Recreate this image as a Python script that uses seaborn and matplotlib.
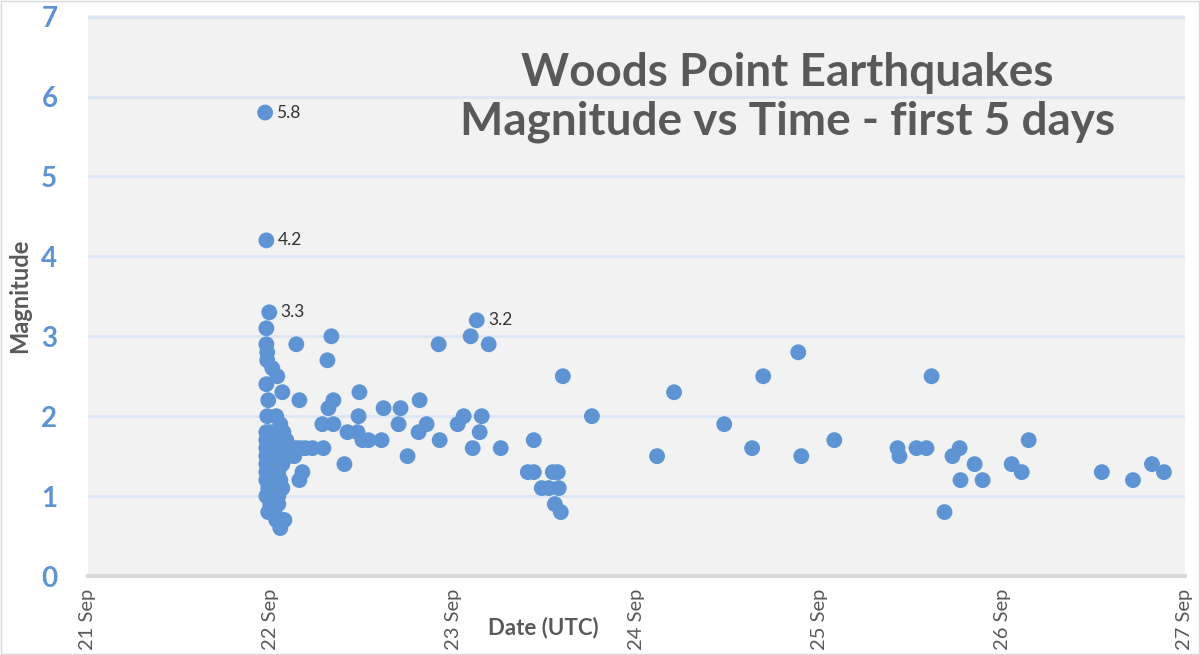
import pandas as pd
import seaborn as sns
import matplotlib.pyplot as plt
import matplotlib.dates as mdates

# event times (UTC, Sep 2021) and magnitudes
times = [
    '21 23:15', '21 23:25', '21 23:48', '21 23:25', '21 23:25', '21 23:32', '21 23:32',
    '22 00:12', '22 00:51', '21 23:25', '22 01:31', '21 23:40', '21 23:32', '22 00:43',
    '22 01:15', '22 01:39',
    '21 23:25', '21 23:56', '21 23:25', '22 00:12', '22 01:15', '22 02:02', '21 23:25',
    '21 23:56', '22 00:43', '22 01:47', '21 23:25', '22 00:12', '22 01:15', '22 02:18',
    '21 23:25', '22 00:28', '22 01:31', '21 23:25', '21 23:56', '22 00:59', '21 23:25',
    '22 00:12', '22 01:15', '21 23:40', '22 00:43', '22 01:31', '21 23:25', '22 00:12',
    '22 00:59', '21 23:56', '22 00:59', '21 23:40', '22 00:28', '22 00:43', '22 01:31',
    '22 01:15', '22 01:47',
    '22 02:50', '22 03:21', '22 03:53', '22 04:32', '22 03:05', '22 03:45', '22 04:09',
    '22 03:21', '22 03:45', '22 05:28', '22 06:54', '22 07:34', '22 08:13', '22 07:57',
    '22 07:26', '22 06:46', '22 08:13', '22 09:40', '22 10:04', '22 11:23', '22 11:31',
    '22 11:38', '22 12:02', '22 12:49', '22 14:32', '22 14:48', '22 17:02', '22 16:46',
    '22 17:57', '22 19:24', '22 19:32', '22 20:27', '22 22:10', '22 22:02',
    '23 00:32', '23 01:19', '23 02:14', '23 02:30', '23 03:02', '23 03:25', '23 03:41',
    '23 04:36', '23 06:11', '23 09:44', '23 10:31', '23 10:31', '23 11:34', '23 12:29',
    '23 13:01', '23 13:40', '23 13:48', '23 13:17', '23 14:04', '23 14:20', '23 18:09',
    '24 02:42', '24 04:56', '24 11:31', '24 15:11', '24 16:38', '24 21:14', '24 21:38',
    '25 01:58', '25 10:16', '25 10:31', '25 12:45', '25 14:04', '25 14:44', '25 16:26',
    '25 17:29', '25 18:25', '25 18:32', '25 20:23', '25 21:26',
    '26 01:15', '26 02:34', '26 03:29', '26 13:05', '26 17:10', '26 19:40', '26 21:14',
]
magnitudes = [
    5.8, 4.2, 3.3, 3.1, 2.9, 2.8, 2.7,
    2.6, 2.5, 2.4, 2.3, 2.2, 2.0, 2.0,
    1.9, 1.8,
    1.8, 1.8, 1.7, 1.7, 1.7, 1.7, 1.6,
    1.6, 1.6, 1.6, 1.5, 1.5, 1.5, 1.5,
    1.4, 1.4, 1.4, 1.3, 1.3, 1.3, 1.2,
    1.2, 1.2, 1.1, 1.1, 1.1, 1.0, 1.0,
    1.0, 0.9, 0.9, 0.8, 0.8, 0.7, 0.7,
    0.6, 0.7,
    1.6, 1.6, 1.6, 1.6, 1.5, 1.2, 1.3,
    2.9, 2.2, 1.6, 1.6, 2.1, 2.2, 3.0,
    2.7, 1.9, 1.9, 1.4, 1.8, 1.8, 2.0,
    2.3, 1.7, 1.7, 1.7, 2.1, 2.1, 1.9,
    1.5, 1.8, 2.2, 1.9, 1.7, 2.9,
    1.9, 2.0, 3.0, 1.6, 3.2, 1.8, 2.0,
    2.9, 1.6, 1.3, 1.3, 1.7, 1.1, 1.1,
    1.3, 1.3, 1.1, 0.9, 0.8, 2.5, 2.0,
    1.5, 2.3, 1.9, 1.6, 2.5, 2.8, 1.5,
    1.7, 1.6, 1.5, 1.6, 1.6, 2.5, 0.8,
    1.5, 1.6, 1.2, 1.4, 1.2,
    1.4, 1.3, 1.7, 1.3, 1.2, 1.4, 1.3,
]
labelled = [5.8, 4.2, 3.3, 3.2]

df = pd.DataFrame({
    'date': pd.to_datetime(['2021-09-' + t for t in times], format='%Y-%m-%d %H:%M'),
    'magnitude': magnitudes,
})

sns.set_style('white')
plt.rcParams['font.family'] = ['Lato', 'DejaVu Sans']

blue = '#5E94D4'
grey = '#595959'

fig = plt.figure(figsize=(12, 6.55), dpi=100)
ax = fig.add_axes([0.0733, 0.1206, 0.9142, 0.8564])
ax.set_facecolor('#F2F2F2')

sns.scatterplot(data=df, x='date', y='magnitude', color=blue, s=130,
                edgecolor='none', ax=ax, zorder=3)

# label the biggest events
for m in labelled:
    row = df[df['magnitude'] == m].iloc[0]
    ax.annotate(f'{m}', (row['date'], m), xytext=(8, 0), textcoords='offset points',
                va='center', ha='left', fontsize=12.5, color='#333333', zorder=4)

ax.set_xlim(pd.Timestamp('2021-09-21'), pd.Timestamp('2021-09-27'))
ax.set_ylim(0, 7.02)
ax.set_yticks(range(0, 8))
ax.yaxis.grid(True, color='#DCE6F4', linewidth=2)
ax.set_axisbelow(True)

ax.xaxis.set_major_locator(mdates.DayLocator())
ax.xaxis.set_minor_locator(mdates.HourLocator(byhour=range(0, 24, 4)))
ax.xaxis.set_major_formatter(mdates.DateFormatter('%d %b'))

for side in ['top', 'right', 'left']:
    ax.spines[side].set_visible(False)
ax.spines['bottom'].set_color('#D9D9D9')
ax.spines['bottom'].set_linewidth(3)

ax.tick_params(axis='x', which='major', direction='inout', length=10, width=3,
               color='#D9D9D9', labelrotation=90, labelsize=14.5, labelcolor=grey, pad=4)
ax.tick_params(axis='x', which='minor', direction='out', length=5, width=2, color='#D9D9D9')
ax.tick_params(axis='y', length=0, labelsize=20, labelcolor=blue, pad=22)
for lbl in ax.get_yticklabels():
    lbl.set_fontweight('bold')

ax.set_xlabel('Date (UTC)', fontsize=16, fontweight='bold', color=grey)
ax.xaxis.set_label_coords(0.415, -0.073)
ax.set_ylabel('Magnitude', fontsize=17, fontweight='bold', color=grey)
ax.yaxis.set_label_coords(-0.052, 0.5)

fig.text(0.656, 0.851, 'Woods Point Earthquakes\nMagnitude vs Time - first 5 days',
         ha='center', va='center', fontsize=33, fontweight='bold', color=grey,
         linespacing=1.2)

# thin outer frame like the exported chart
fig.patches.append(plt.Rectangle((0.001, 0.001), 0.998, 0.998, transform=fig.transFigure,
                                 fill=False, edgecolor='#D9D9D9', linewidth=1))

fig.savefig('out.png', dpi=100)
